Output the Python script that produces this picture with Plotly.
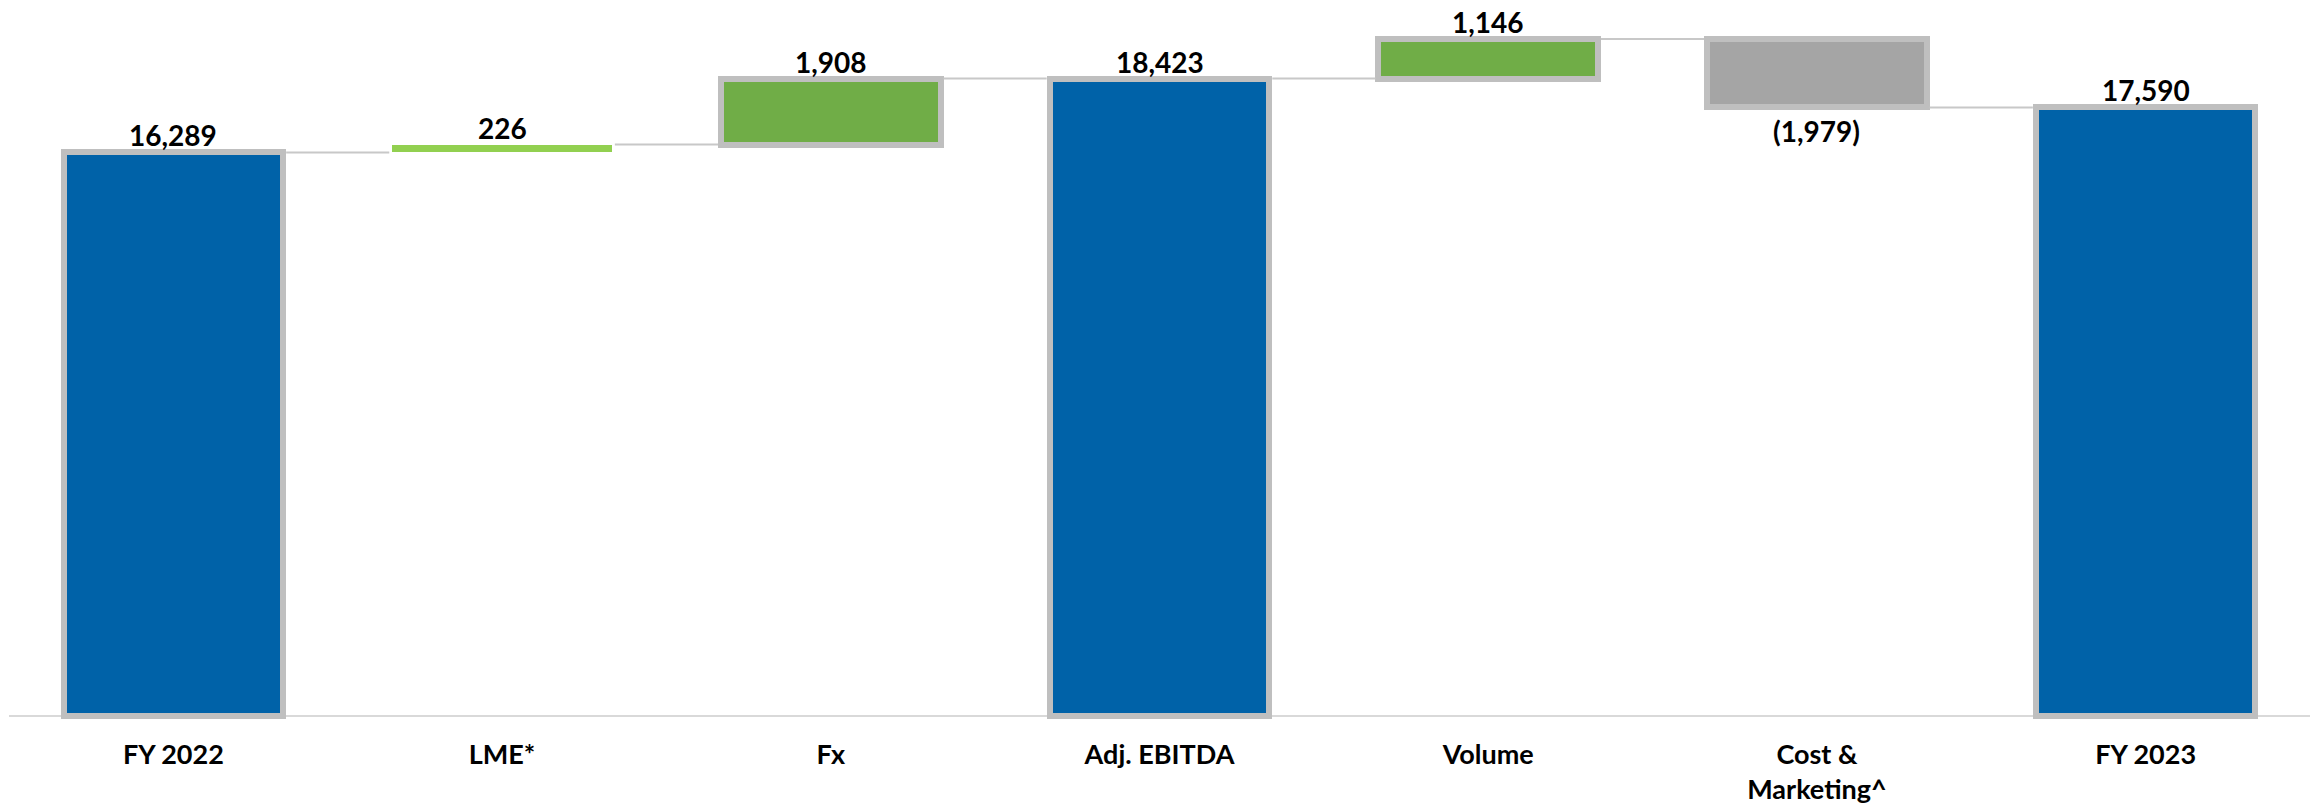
import plotly.graph_objects as go

# ---- data ----
categories = ["FY 2022", "LME*", "Fx", "Adj. EBITDA", "Volume", "Cost &<br>Marketing^", "FY 2023"]
values = [16289, 226, 1908, 18423, 1146, -1979, 17590]
measures = ["absolute", "relative", "relative", "total", "relative", "relative", "total"]

# ---- styles ----
BLUE = "#0062A8"
GREEN = "#70AD47"
LIGHT_GREEN = "#92D050"
GREY_FILL = "#A5A5A5"
BORDER = "#BFBFBF"
fill_colors = [BLUE, LIGHT_GREEN, GREEN, BLUE, GREEN, GREY_FILL, BLUE]
line_widths = [6, 0, 6, 6, 6, 6, 6]
BAR_W = 0.668
FONT = "Lato"

# ---- compute waterfall geometry from data ----
bases, ends = [], []
running = 0
for v, m in zip(values, measures):
    if m == "relative":
        bases.append(running)
        running += v
    else:
        bases.append(0)
        running = v
    ends.append(running)

heights = [e - b for e, b in zip(ends, bases)]
xs = list(range(len(categories)))

fig = go.Figure()
fig.add_trace(go.Bar(
    x=xs, y=heights, base=bases, width=BAR_W,
    marker=dict(color=fill_colors, line=dict(color=BORDER, width=line_widths)),
    hoverinfo="skip", showlegend=False,
))

# connectors
off = BAR_W / 2 + 3 / 328.7
cx, cy = [], []
for i in range(len(values) - 1):
    cx += [xs[i] + off, xs[i + 1] - off, None]
    cy += [ends[i], ends[i], None]
fig.add_trace(go.Scatter(x=cx, y=cy, mode="lines",
                         line=dict(color="#C8C8C8", width=2),
                         hoverinfo="skip", showlegend=False))

def fmt(v):
    return f"({abs(v):,})" if v < 0 else f"{v:,}"

for i, (v, m) in enumerate(zip(values, measures)):
    top = max(bases[i], ends[i])
    bot = min(bases[i], ends[i])
    if v >= 0:
        fig.add_annotation(x=xs[i], y=top, text=fmt(v), showarrow=False,
                           yanchor="middle", yshift=17,
                           font=dict(family=FONT, size=28, color="black", weight="bold"))
    else:
        fig.add_annotation(x=xs[i], y=bot, text=fmt(v), showarrow=False,
                           yanchor="middle", yshift=-24,
                           font=dict(family=FONT, size=28, color="black", weight="bold"))

fig.update_layout(
    width=2315, height=810,
    margin=dict(l=9, r=5, t=20, b=88),
    plot_bgcolor="white", paper_bgcolor="white",
    bargap=0,
    xaxis=dict(range=[-0.5, 6.5], tickvals=xs, ticktext=categories,
               showgrid=False, zeroline=False, showline=False, ticks="",
               ticklabelstandoff=14,
               tickfont=dict(family=FONT, size=27, color="black", weight="bold"),
               fixedrange=True),
    yaxis=dict(range=[-173, 20116], showgrid=False, showticklabels=False,
               zeroline=True, zerolinecolor="#D9D9D9", zerolinewidth=2,
               showline=False, ticks="", fixedrange=True),
)

fig.write_html("out.html",
               config={"displayModeBar": False},
               post_script="document.body.style.margin='0';document.body.style.overflow='hidden';")
